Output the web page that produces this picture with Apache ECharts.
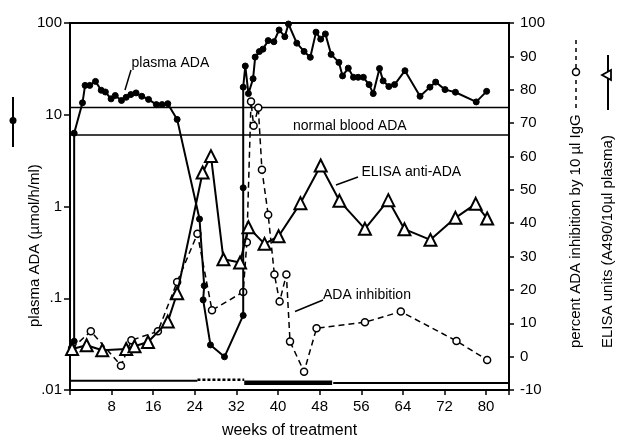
<!DOCTYPE html>
<html>
<head>
<meta charset="utf-8">
<script src="https://cdn.jsdelivr.net/npm/echarts@6/dist/echarts.min.js"></script>
<style>html,body{margin:0;padding:0;background:#fff;}#c{width:617px;height:444px;}</style>
</head>
<body>
<div id="c"></div>
<script>
// ---- data (weeks of treatment) ----
const plasmaWeeks = [0.8,0.8,2.4,2.9,3.8,4.9,6.0,6.8,7.9,8.7,9.9,10.8,11.7,12.7,13.8,15.1,16.6,17.7,18.8,20.6,24.9,25.8,25.6,27.0,29.7,33.3,33.3,33.3,33.7,34.3,35.2,35.6,36.4,37.1,38.1,39.2,40.2,41.3,42.0,43.6,45.0,46.2,47.3,48.2,49.1,50.2,51.7,52.4,53.5,54.5,55.4,56.4,57.5,58.3,59.5,60.2,61.3,62.4,64.4,67.3,69.2,70.3,72.1,74.1,78.1,80.1];
const plasmaADA = [0.034,6.3,13.5,20.9,20.9,23.1,18.5,17.7,14.9,16.2,14.3,15.5,16.6,17.3,15.9,14.7,12.9,12.9,13.2,8.9,0.73,0.137,0.096,0.031,0.023,0.065,1.6,20,34,17.0,24.7,42.5,48.8,51.9,64.3,62.5,84,71,97.5,60.3,49,42.3,79.5,66.7,76,45.5,37.2,26.5,32.2,25.6,25.6,25.6,21.3,17.0,31.9,23.4,20.3,21.3,30.2,15.9,20.0,22.7,18.8,17.6,13.8,18.0];

const elisaWeeks = [0.4,3.2,6.2,10.8,12.4,15.0,18.8,20.6,25.5,27.1,29.5,32.7,34.3,37.4,40.1,44.3,48.2,51.8,56.7,61.2,64.3,69.3,74.1,78.0,80.2];
const elisaUnits = [2.3,3.4,1.9,2.3,3.1,4.4,10.5,19.0,55.2,60.1,29.2,28.2,38.8,33.8,36.1,46.0,57.3,46.7,38.3,46.9,38.2,35.0,41.6,45.8,41.4];

const inhibWeeks = [0.4,4.0,9.8,11.8,16.9,20.6,24.5,27.3,33.3,34.0,34.8,35.3,36.2,36.9,38.1,39.3,40.3,41.6,42.3,45.0,47.4,56.7,63.6,74.3,80.2];
const inhibPct = [2.5,7.6,-2.7,4.9,7.6,22.4,36.8,13.9,19.4,34.3,76.5,69.2,74.6,56.0,42.5,24.6,16.5,24.6,4.5,-4.5,8.5,10.3,13.5,4.7,-1.0];

// normal blood ADA range (µmol/h/ml)
const normalLow = 6.0;
const normalHigh = 12.0;

// treatment periods along the bottom: [start week, end week, level on right axis]
const period1 = [0, 24.5, -7.2];
const period2 = [24.5, 33.5, -6.9];
const period3 = [33.5, 50.4, -7.8];
const period4 = [50.6, 84.4, -7.9];

const xTickLabels = [8,16,24,32,40,48,56,64,72,80];
const leftTickLabels = ['.01','.1','1','10','100'];

const X_MAX = 84.4;
const FONT = 'Liberation Sans, Arial, Helvetica, sans-serif';

function zip(a, b){ return a.map((v,i)=>[v,b[i]]); }

const chart = echarts.init(document.getElementById('c'), null, {renderer:'canvas'});

const option = {
  animation: false,
  backgroundColor: '#fff',
  grid: { left: 70, right: 108, top: 23, bottom: 52, show: true, borderColor: '#000', borderWidth: 2, backgroundColor: 'transparent' },
  xAxis: {
    type: 'value', min: 0, max: X_MAX, interval: 8,
    name: 'weeks of treatment', nameLocation: 'middle', nameGap: 33,
    nameTextStyle: { fontFamily: FONT, fontSize: 16, color: '#000' },
    axisLine: { onZero: false, lineStyle: { color: '#000', width: 2 } },
    axisTick: { inside: false, length: 5, lineStyle: { color: '#000', width: 1.5 } },
    axisLabel: { fontFamily: FONT, fontSize: 15, color: '#000', margin: 9,
      formatter: v => xTickLabels.indexOf(Math.round(v)) >= 0 && Math.abs(v - Math.round(v)) < 1e-6 ? String(Math.round(v)) : '' },
    splitLine: { show: false }
  },
  yAxis: [
    {
      type: 'log', logBase: 10, min: 0.01, max: 100, position: 'left',
      axisLine: { show: true, onZero: false, lineStyle: { color: '#000', width: 2 } },
      axisTick: { show: true, inside: false, length: 6, lineStyle: { color: '#000', width: 1.5 } },
      axisLabel: { fontFamily: FONT, fontSize: 15, color: '#000', margin: 8,
        formatter: v => leftTickLabels[Math.round(Math.log10(v)) + 2] || '' },
      splitLine: { show: false }, minorTick: { show: false }
    },
    {
      type: 'value', min: -10, max: 100, interval: 10, position: 'right',
      axisLine: { show: true, onZero: false, lineStyle: { color: '#000', width: 2 } },
      axisTick: { show: true, inside: false, length: 5, lineStyle: { color: '#000', width: 1.5 } },
      axisLabel: { fontFamily: FONT, fontSize: 15, color: '#000', margin: 11 },
      splitLine: { show: false }
    }
  ],
  series: [
    { type: 'line', yAxisIndex: 0, data: [[0, normalHigh],[X_MAX, normalHigh]], symbol: 'none', lineStyle: { color: '#000', width: 1.5 }, z: 1 },
    { type: 'line', yAxisIndex: 0, data: [[0, normalLow],[X_MAX, normalLow]], symbol: 'none', lineStyle: { color: '#000', width: 1.5 }, z: 1 },
    { type: 'line', yAxisIndex: 1, data: [[period1[0], period1[2]],[period1[1], period1[2]]], symbol: 'none', lineStyle: { color: '#000', width: 2 }, z: 1 },
    { type: 'line', yAxisIndex: 1, data: [[period2[0], period2[2]],[period2[1], period2[2]]], symbol: 'none', lineStyle: { color: '#000', width: 2.5, type: [3,2] }, z: 1 },
    { type: 'line', yAxisIndex: 1, data: [[period3[0], period3[2]],[period3[1], period3[2]]], symbol: 'none', lineStyle: { color: '#000', width: 4.5 }, z: 1 },
    { type: 'line', yAxisIndex: 1, data: [[period4[0], period4[2]],[period4[1], period4[2]]], symbol: 'none', lineStyle: { color: '#000', width: 2 }, z: 1 },
    { name: 'ADA inhibition', type: 'line', yAxisIndex: 1, data: zip(inhibWeeks, inhibPct),
      symbol: 'circle', symbolSize: 7, showAllSymbol: true,
      lineStyle: { color: '#000', width: 1.5, type: [6,4] },
      itemStyle: { color: '#fff', borderColor: '#000', borderWidth: 1.5 }, z: 3 },
    { name: 'plasma ADA', type: 'line', yAxisIndex: 0, data: zip(plasmaWeeks, plasmaADA),
      symbol: 'circle', symbolSize: 6, showAllSymbol: true,
      lineStyle: { color: '#000', width: 2 },
      itemStyle: { color: '#000', borderColor: '#000', borderWidth: 1 }, z: 4 },
    { name: 'ELISA anti-ADA', type: 'line', yAxisIndex: 1, data: zip(elisaWeeks, elisaUnits),
      symbol: 'triangle', symbolSize: 12, showAllSymbol: true,
      lineStyle: { color: '#000', width: 2 },
      itemStyle: { color: '#fff', borderColor: '#000', borderWidth: 2 }, z: 5 }
  ],
  graphic: [
    // left axis title + symbol
    { type: 'line', shape: { x1: 13, y1: 97, x2: 13, y2: 147 }, style: { stroke: '#000', lineWidth: 2 } },
    { type: 'circle', shape: { cx: 13, cy: 120.5, r: 3.5 }, style: { fill: '#000' } },
    { type: 'text', x: 35, y: 327, rotation: Math.PI/2, style: { text: 'plasma ADA (µmol/h/ml)', font: '15px ' + FONT, fill: '#000', textAlign: 'left', textVerticalAlign: 'middle' } },
    // right axis titles + symbols
    { type: 'line', shape: { x1: 576, y1: 40, x2: 576, y2: 112 }, style: { stroke: '#000', lineWidth: 1.5, lineDash: [4,4] } },
    { type: 'circle', shape: { cx: 576, cy: 72, r: 3.5 }, style: { fill: '#fff', stroke: '#000', lineWidth: 1.5 } },
    { type: 'text', x: 576, y: 348, rotation: Math.PI/2, style: { text: 'percent ADA inhibition by 10 µl IgG', font: '15px ' + FONT, fill: '#000', textAlign: 'left', textVerticalAlign: 'middle' } },
    { type: 'line', shape: { x1: 608, y1: 55, x2: 608, y2: 110 }, style: { stroke: '#000', lineWidth: 2 } },
    { type: 'polygon', shape: { points: [[602,75],[611,70],[611,80]] }, style: { fill: '#fff', stroke: '#000', lineWidth: 1.8 } },
    { type: 'text', x: 608, y: 348, rotation: Math.PI/2, style: { text: 'ELISA units (A490/10µl plasma)', font: '15px ' + FONT, fill: '#000', textAlign: 'left', textVerticalAlign: 'middle' } },
    // annotations
    { type: 'text', x: 131.5, y: 63, style: { text: 'plasma ADA', font: '14px ' + FONT, fill: '#000', textAlign: 'left', textVerticalAlign: 'middle' } },
    { type: 'line', shape: { x1: 131, y1: 70, x2: 125, y2: 90 }, style: { stroke: '#000', lineWidth: 1.5 } },
    { type: 'text', x: 293, y: 126, style: { text: 'normal blood ADA', font: '14px ' + FONT, fill: '#000', textAlign: 'left', textVerticalAlign: 'middle' } },
    { type: 'text', x: 361.5, y: 172.5, style: { text: 'ELISA anti-ADA', font: '14px ' + FONT, fill: '#000', textAlign: 'left', textVerticalAlign: 'middle' } },
    { type: 'line', shape: { x1: 358, y1: 177, x2: 336, y2: 185 }, style: { stroke: '#000', lineWidth: 1.5 } },
    { type: 'text', x: 323, y: 295, style: { text: 'ADA inhibition', font: '14px ' + FONT, fill: '#000', textAlign: 'left', textVerticalAlign: 'middle' } },
    { type: 'line', shape: { x1: 323, y1: 300, x2: 295, y2: 311.5 }, style: { stroke: '#000', lineWidth: 1.5 } }
  ]
};
chart.setOption(option);
</script>
</body>
</html>
